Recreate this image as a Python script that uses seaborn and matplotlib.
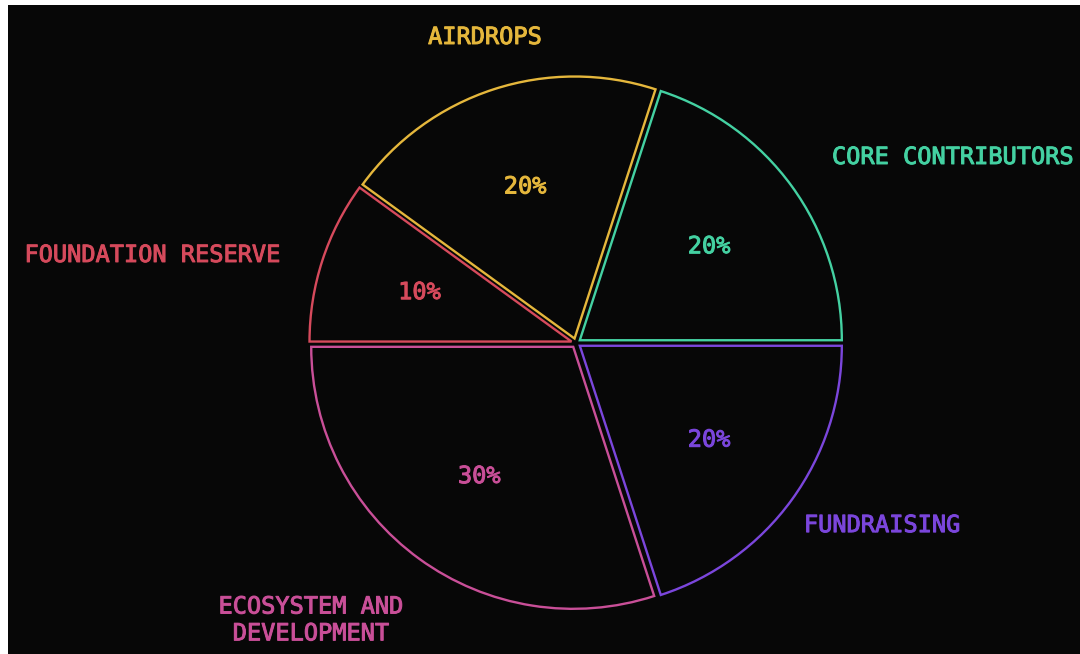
import matplotlib
import matplotlib.pyplot as plt
import matplotlib.patheffects as pe
import seaborn as sns

matplotlib.use('Agg')

labels = ['CORE CONTRIBUTORS', 'AIRDROPS', 'FOUNDATION RESERVE',
          'ECOSYSTEM AND\nDEVELOPMENT', 'FUNDRAISING']
shares = [20, 20, 10, 30, 20]
colors = ['#44d1a2', '#e5b73c', '#d64a5c', '#c94f98', '#7b46dc']

# where the category names sit (data units, pie radius = 1)
label_xy = [(0.977, 0.710), (-0.347, 1.168), (-1.126, 0.336),
            (-1.011, -1.057), (0.870, -0.695)]
label_ha = ['left', 'center', 'right', 'center', 'left']

sns.set_theme(style='dark')
plt.rcParams['font.family'] = ['DejaVu Sans Mono', 'DejaVu Sans']

fig = plt.figure(figsize=(10.8, 6.54), dpi=100, facecolor='white')
ax = fig.add_axes([8 / 1080, 0, 1072 / 1080, 649 / 654])

wedges, texts, autotexts = ax.pie(
    shares, colors=colors, startangle=0, counterclock=True,
    explode=[0.018] * len(shares), autopct='%d%%', pctdistance=0.61,
    wedgeprops=dict(linewidth=1.7), textprops=dict(fontsize=17))

# slightly heavier strokes, the reference font looks like a medium weight
heavy = lambda c: [pe.withStroke(linewidth=0.7, foreground=c)]

for w, c, t in zip(wedges, colors, autotexts):
    w.set_facecolor('none')
    w.set_edgecolor(c)
    t.set_color(c)
    t.set_path_effects(heavy(c))

for lab, (x, y), ha, c in zip(labels, label_xy, label_ha, colors):
    ax.text(x, y, lab, color=c, fontsize=17, ha=ha, va='center',
            multialignment='center', linespacing=1.15,
            path_effects=heavy(c))

# pie() turns the frame off, which also hides the dark background
ax.set_frame_on(True)
ax.set_facecolor('#070707')
ax.set_aspect('equal')
ax.set_xlim(-568 / 262, (1072 - 568) / 262)
ax.set_ylim(-311 / 262, 338 / 262)
ax.set_xticks([])
ax.set_yticks([])
ax.grid(False)
for s in ax.spines.values():
    s.set_visible(False)

fig.savefig('out.png', dpi=100, facecolor='white')
